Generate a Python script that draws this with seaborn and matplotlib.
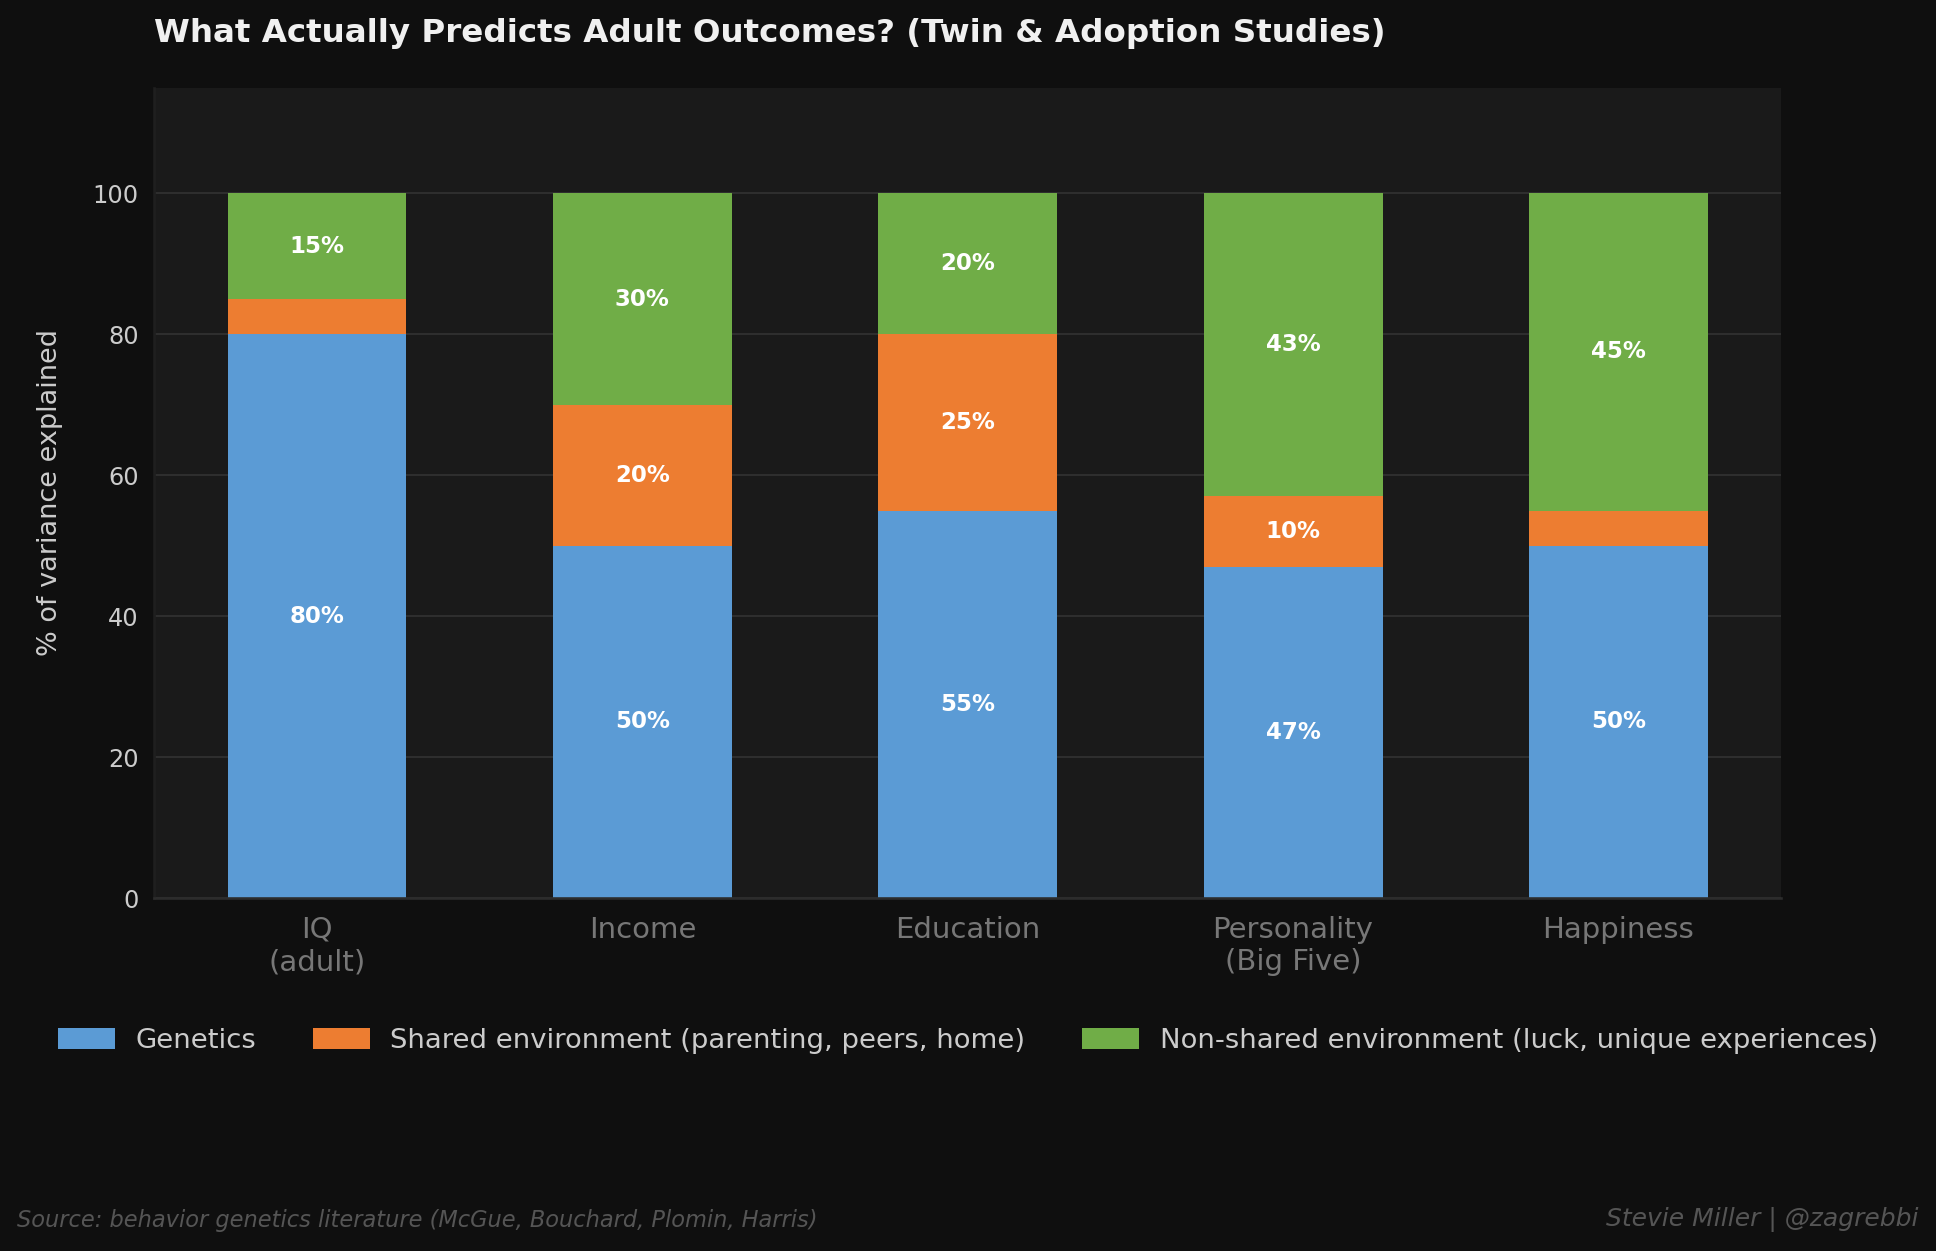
import numpy as np
import pandas as pd
import seaborn as sns
import matplotlib.pyplot as plt

# data
outcomes = ["IQ\n(adult)", "Income", "Education", "Personality\n(Big Five)", "Happiness"]
genetics = [80, 50, 55, 47, 50]
shared_env = [5, 20, 25, 10, 5]
nonshared_env = [15, 30, 20, 43, 45]
series_names = ["Genetics",
                "Shared environment (parenting, peers, home)",
                "Non-shared environment (luck, unique experiences)"]
series_colors = ["#5b9bd5", "#ed7d31", "#70ad47"]

fig_bg = "#0f0f0f"
ax_bg = "#1a1a1a"

sns.set_theme(style="dark", rc={
    "figure.facecolor": fig_bg,
    "axes.facecolor": ax_bg,
    "axes.edgecolor": "#2c2c2c",
    "grid.color": "#333333",
    "text.color": "#dddddd",
    "xtick.color": "#777777",
    "ytick.color": "#cccccc",
})
plt.rcParams['font.family'] = ['DejaVu Sans']

fig, ax = plt.subplots(figsize=(1936 / 150, 1251 / 150), dpi=150)
fig.subplots_adjust(left=0.0797, right=0.920, top=0.930, bottom=0.282)

bottom = np.zeros(len(outcomes))
for vals, name, col in zip([genetics, shared_env, nonshared_env], series_names, series_colors):
    sns.barplot(x=outcomes, y=vals, bottom=bottom, color=col, width=0.55,
                label=name, ax=ax, linewidth=0, saturation=1)
    # percentage labels, skip tiny segments
    for i, v in enumerate(vals):
        if v >= 10:
            ax.text(i, bottom[i] + v / 2, f"{v}%", ha="center", va="center",
                    color="white", fontsize=11, fontweight="bold")
    bottom = bottom + np.array(vals)

ax.set_xlim(-0.5, 4.5)
ax.set_ylim(0, 115)
ax.set_yticks([0, 20, 40, 60, 80, 100])
ax.yaxis.grid(True, color="#333333", linewidth=0.8)
ax.xaxis.grid(False)
ax.set_axisbelow(True)
ax.tick_params(axis="x", labelsize=14, colors="#4a4a4a", labelcolor="#777777", length=5, width=1)
ax.tick_params(axis="y", labelsize=11.5, colors="#cccccc", length=4, width=1)
ax.set_ylabel("% of variance explained", fontsize=13, color="#cccccc", labelpad=14)
ax.set_xlabel("")
for s in ["top", "right"]:
    ax.spines[s].set_visible(False)
ax.spines["left"].set_color("#1f1f1f")
ax.spines["bottom"].set_color("#2c2c2c")

ax.legend(loc="center", bbox_to_anchor=(0.5, 0.168), bbox_transform=fig.transFigure,
          ncol=3, frameon=False, fontsize=13.2, labelcolor="#cccccc",
          handlelength=2.06, handleheight=0.8, handletextpad=0.76, columnspacing=2.06)

fig.text(0.0797, 0.973, "What Actually Predicts Adult Outcomes? (Twin & Adoption Studies)",
         ha="left", va="center", fontsize=15.6, fontweight="bold", color="#f0f0f0")
fig.text(0.009, 0.024, "Source: behavior genetics literature (McGue, Bouchard, Plomin, Harris)",
         ha="left", va="center", fontsize=10.8, style="italic", color="#555555")
fig.text(0.991, 0.025, "Stevie Miller | @zagrebbi",
         ha="right", va="center", fontsize=12, style="italic", color="#555555")

fig.savefig("out.png", dpi=150, facecolor=fig_bg)
